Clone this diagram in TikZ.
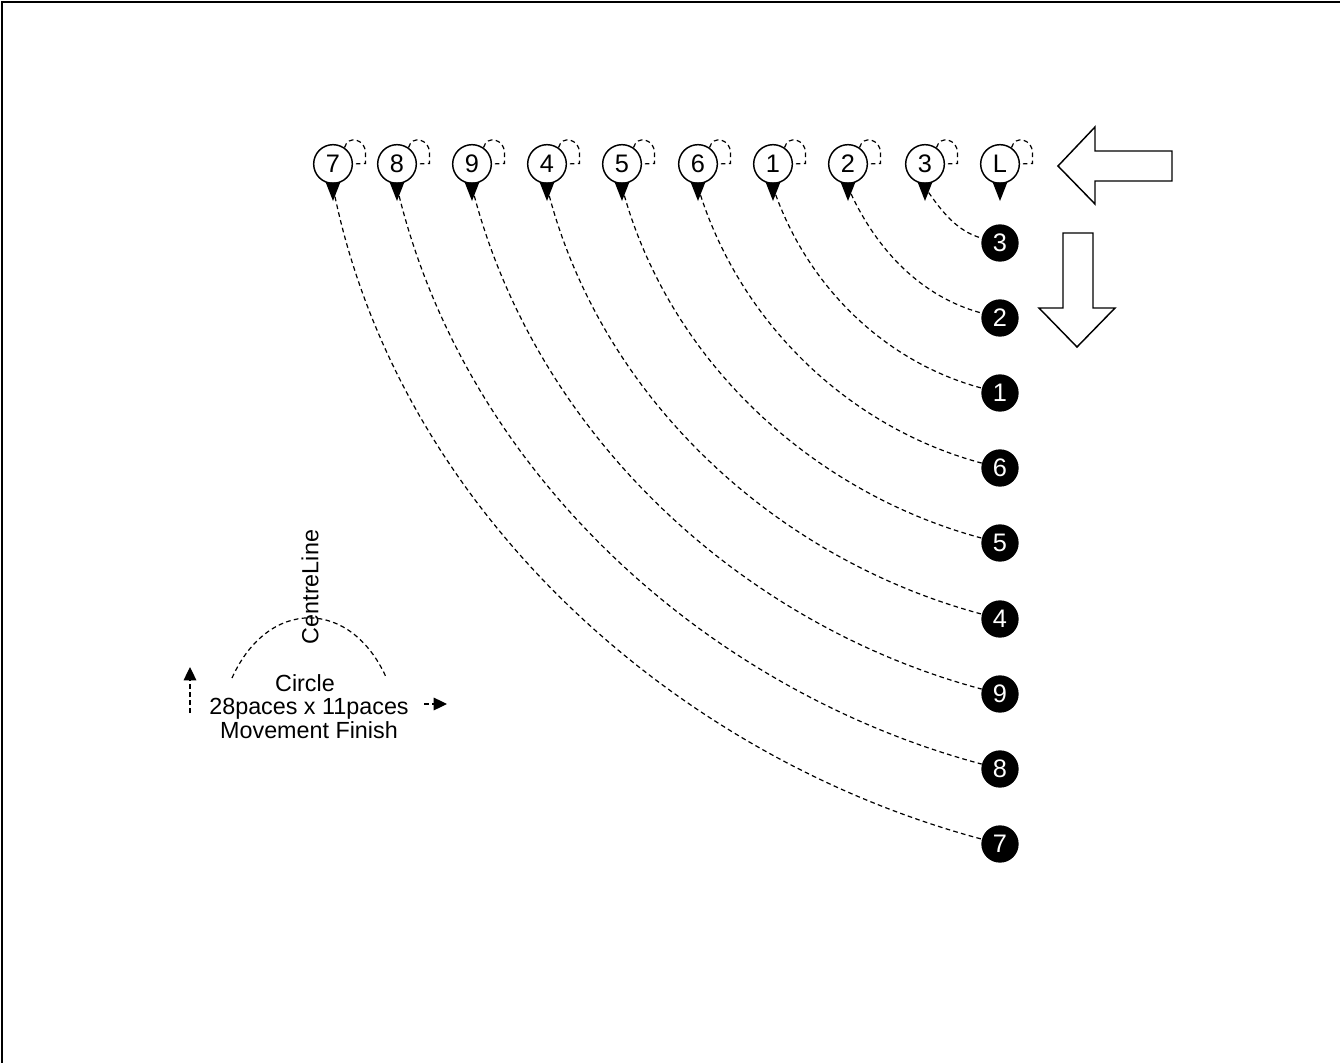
\documentclass[tikz,border=0pt]{standalone}
\usepackage{fontspec}
\setmainfont{Liberation Sans}
\usetikzlibrary{positioning,shapes.geometric,arrows.meta}

\tikzset{
 dancer/.style={circle, draw, line width=1.1pt, fill=white, minimum size=29pt, inner sep=0pt, font=\fontsize{19}{19}\selectfont},
 spot/.style={circle, fill=black, text=white, minimum size=28pt, inner sep=0pt, font=\fontsize{19}{19}\selectfont},
 facing/.style={isosceles triangle, isosceles triangle stretches, shape border rotate=270, fill=black, inner sep=0pt, minimum width=11pt, minimum height=14pt},
 track/.style={line width=0.9pt, dash pattern=on 3.5pt off 2.5pt},
 spin/.style={line width=0.9pt, dash pattern=on 3.5pt off 2.5pt},
 bigarrow/.style={draw, line width=1.1pt},
 legend/.style={font=\fontsize{17.5}{17}\selectfont, inner sep=0pt}
}

\begin{document}
\begin{tikzpicture}[x=0.75pt,y=0.75pt]
 \useasboundingbox (0,0) rectangle (1340,-1063);

 %page frame
 \draw[line width=1.5pt] (2,-1063) -- (2,-2) -- (1340,-2);

 %dancers on the top line
 \coordinate (P7) at (333,-164);
 \coordinate (P8) at (397,-164);
 \coordinate (P9) at (472,-164);
 \coordinate (P4) at (547,-164);
 \coordinate (P5) at (622,-164);
 \coordinate (P6) at (698,-164);
 \coordinate (P1) at (773,-164);
 \coordinate (P2) at (848,-164);
 \coordinate (P3) at (925,-164);
 \coordinate (PL) at (1000,-164);

 %finishing spots
 \coordinate (Q3) at (1000,-243);
 \coordinate (Q2) at (1000,-318);
 \coordinate (Q1) at (1000,-393);
 \coordinate (Q6) at (1000,-468);
 \coordinate (Q5) at (1000,-543);
 \coordinate (Q4) at (1000,-619);
 \coordinate (Q9) at (1000,-694);
 \coordinate (Q8) at (1000,-769);
 \coordinate (Q7) at (1000,-844);

 %place the dancers
 \node[dancer] (d7) at (P7) {7};
 \node[dancer] (d8) at (P8) {8};
 \node[dancer] (d9) at (P9) {9};
 \node[dancer] (d4) at (P4) {4};
 \node[dancer] (d5) at (P5) {5};
 \node[dancer] (d6) at (P6) {6};
 \node[dancer] (d1) at (P1) {1};
 \node[dancer] (d2) at (P2) {2};
 \node[dancer] (d3) at (P3) {3};
 \node[dancer] (dL) at (PL) {L};

 %facing marks
 \node[facing, below=-1.5pt of d7] (t7) {};
 \node[facing, below=-1.5pt of d8] (t8) {};
 \node[facing, below=-1.5pt of d9] (t9) {};
 \node[facing, below=-1.5pt of d4] (t4) {};
 \node[facing, below=-1.5pt of d5] (t5) {};
 \node[facing, below=-1.5pt of d6] (t6) {};
 \node[facing, below=-1.5pt of d1] (t1) {};
 \node[facing, below=-1.5pt of d2] (t2) {};
 \node[facing, below=-1.5pt of d3] (t3) {};
 \node[facing, below=-1.5pt of dL] (tL) {};

 %turn loops
 \draw[spin] (d7.55) to[out=75,in=90,looseness=1.6] ++(21,-5.2) -- ++(0,-10.7) -- (d7.east);
 \draw[spin] (d8.55) to[out=75,in=90,looseness=1.6] ++(21,-5.2) -- ++(0,-10.7) -- (d8.east);
 \draw[spin] (d9.55) to[out=75,in=90,looseness=1.6] ++(21,-5.2) -- ++(0,-10.7) -- (d9.east);
 \draw[spin] (d4.55) to[out=75,in=90,looseness=1.6] ++(21,-5.2) -- ++(0,-10.7) -- (d4.east);
 \draw[spin] (d5.55) to[out=75,in=90,looseness=1.6] ++(21,-5.2) -- ++(0,-10.7) -- (d5.east);
 \draw[spin] (d6.55) to[out=75,in=90,looseness=1.6] ++(21,-5.2) -- ++(0,-10.7) -- (d6.east);
 \draw[spin] (d1.55) to[out=75,in=90,looseness=1.6] ++(21,-5.2) -- ++(0,-10.7) -- (d1.east);
 \draw[spin] (d2.55) to[out=75,in=90,looseness=1.6] ++(21,-5.2) -- ++(0,-10.7) -- (d2.east);
 \draw[spin] (d3.55) to[out=75,in=90,looseness=1.6] ++(21,-5.2) -- ++(0,-10.7) -- (d3.east);
 \draw[spin] (dL.55) to[out=75,in=90,looseness=1.6] ++(21,-5.2) -- ++(0,-10.7) -- (dL.east);

 %place the spots
 \node[spot] (s3) at (Q3) {3};
 \node[spot] (s2) at (Q2) {2};
 \node[spot] (s1) at (Q1) {1};
 \node[spot] (s6) at (Q6) {6};
 \node[spot] (s5) at (Q5) {5};
 \node[spot] (s4) at (Q4) {4};
 \node[spot] (s9) at (Q9) {9};
 \node[spot] (s8) at (Q8) {8};
 \node[spot] (s7) at (Q7) {7};

 %wheel tracks
 \draw[track] (t3) to[out=-55,in=165,looseness=0.9] (s3);
 \draw[track] (t2) to[out=-65,in=165,looseness=0.9] (s2);
 \draw[track] (t1) to[out=-70,in=165,looseness=0.9] (s1);
 \draw[track] (t6) to[out=-72,in=165,looseness=0.9] (s6);
 \draw[track] (t5) to[out=-74,in=165,looseness=0.9] (s5);
 \draw[track] (t4) to[out=-75,in=165,looseness=0.9] (s4);
 \draw[track] (t9) to[out=-75,in=165,looseness=0.9] (s9);
 \draw[track] (t8) to[out=-76,in=165,looseness=0.9] (s8);
 \draw[track] (t7) to[out=-78,in=165,looseness=0.9] (s7);

 %direction arrows
 \draw[bigarrow] (1058,-166) -- (1095,-127) -- (1095,-151) -- (1172,-151) -- (1172,-181) -- (1095,-181) -- (1095,-204) -- cycle;
 \draw[bigarrow] (1063,-233) -- (1093,-233) -- (1093,-308) -- (1115,-308) -- (1077,-347) -- (1039,-308) -- (1063,-308) -- cycle;

 %legend
 \coordinate (arcl) at (232,-678);
 \coordinate (arcr) at (386,-677);
 \draw[track] (arcl) .. controls (268,-598) and (350,-598) .. (arcr);
 \node[legend, rotate=90] (centre) at (310,-587) {CentreLine};
 \node[legend, anchor=base] (circ) at (305,-691) {Circle};
 \node[legend, anchor=base] (size) at (309,-714) {28paces x 11paces};
 \node[legend, anchor=base] (finish) at (309,-738) {Movement Finish};

 \coordinate (upfoot) at (190,-713);
 \coordinate (uptip) at (190,-667);
 \coordinate (rtfoot) at (424,-704);
 \coordinate (rttip) at (447,-704);
 \draw[track, -{Triangle[length=10pt,width=9.5pt]}] (upfoot) -- (uptip);
 \draw[track, -{Triangle[length=10pt,width=9.5pt]}] (rtfoot) -- (rttip);
\end{tikzpicture}
\end{document}
